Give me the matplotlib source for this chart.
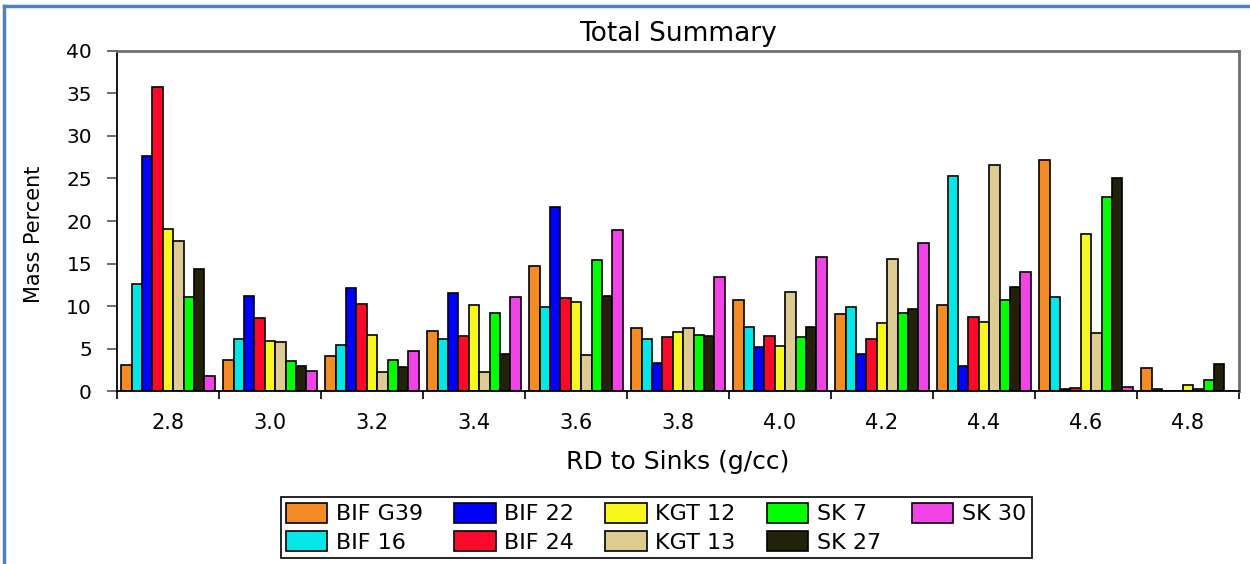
import numpy as np
import matplotlib
matplotlib.use("Agg")
import matplotlib.pyplot as plt
from matplotlib.lines import Line2D

plt.rcParams['font.family'] = ['DejaVu Sans']

densities = ['2.8', '3.0', '3.2', '3.4', '3.6', '3.8', '4.0', '4.2', '4.4', '4.6', '4.8']
samples = ['BIF G39', 'BIF 16', 'BIF 22', 'BIF 24', 'KGT 12', 'KGT 13', 'SK 7', 'SK 27', 'SK 30']
colors = ['#F58B24', '#05E6E6', '#0000FF', '#FA0A2A', '#F8F81E', '#DDCB91', '#00FF00', '#22220A', '#F044E6']

bif_g39 = [3.1, 3.7, 4.1, 7.1, 14.7, 7.4, 10.7, 9.1, 10.1, 27.2, 2.7]
bif_16 = [12.6, 6.1, 5.4, 6.1, 9.9, 6.1, 7.5, 9.9, 25.3, 11.1, 0.2]
bif_22 = [27.6, 11.2, 12.1, 11.5, 21.6, 3.3, 5.2, 4.3, 3.0, 0.2, 0.0]
bif_24 = [35.8, 8.6, 10.2, 6.5, 10.9, 6.4, 6.5, 6.1, 8.7, 0.4, 0.0]
kgt_12 = [19.1, 5.9, 6.6, 10.1, 10.5, 7.0, 5.3, 8.0, 8.1, 18.5, 0.7]
kgt_13 = [17.7, 5.8, 2.2, 2.2, 4.2, 7.4, 11.7, 15.5, 26.6, 6.8, 0.2]
sk_7 = [11.1, 3.5, 3.6, 9.2, 15.4, 6.6, 6.3, 9.2, 10.7, 22.8, 1.3]
sk_27 = [14.3, 3.0, 2.8, 4.4, 11.2, 6.5, 7.5, 9.7, 12.2, 25.1, 3.2]
sk_30 = [1.8, 2.4, 4.7, 11.1, 19.0, 13.4, 15.8, 17.4, 14.0, 0.5, 0.0]
series = [bif_g39, bif_16, bif_22, bif_24, kgt_12, kgt_13, sk_7, sk_27, sk_30]

fig = plt.figure(figsize=(12.5, 5.64), dpi=100)
ax = fig.add_axes([0.0936, 0.3067, 0.8976, 0.6029])

x = np.arange(len(densities))
n = len(series)
w = 0.92 / n
handles = []
for i, vals in enumerate(series):
    pos = x - 0.46 + w * (i + 0.5)
    b = ax.bar(pos, vals, width=w, color=colors[i], edgecolor='black',
               linewidth=1.2, label=samples[i])
    handles.append(b)

ax.set_xlim(-0.5, len(densities) - 0.5)
ax.set_ylim(0, 40)
ax.set_yticks(np.arange(0, 41, 5))
ax.set_xticks(x)
ax.set_xticklabels(densities)
# tick marks sit between the density groups
ax.set_xticks(np.arange(-0.5, len(densities), 1), minor=True)
ax.tick_params(axis='x', which='major', length=0, labelsize=15, pad=16)
ax.tick_params(axis='x', which='minor', length=6, width=1.2, direction='out')
ax.tick_params(axis='y', length=7, width=1.2, direction='out', labelsize=14.5,
               pad=11, color='#555555')

for s in ['top', 'right']:
    ax.spines[s].set_color('#707070')
    ax.spines[s].set_linewidth(2)
for s in ['left', 'bottom']:
    ax.spines[s].set_color('black')
    ax.spines[s].set_linewidth(1.3)

ax.set_title('Total Summary', fontsize=19, pad=7)
ax.set_xlabel('RD to Sinks (g/cc)', fontsize=18, labelpad=12)
ax.set_ylabel('Mass Percent', fontsize=15)
ax.yaxis.set_label_coords(-0.065, 0.46)

leg = fig.legend(handles=handles, labels=samples, ncol=5, loc='center',
                 bbox_to_anchor=(0.525, 0.0645), fontsize=16, fancybox=False,
                 edgecolor='black', framealpha=1, handlelength=1.85,
                 handleheight=1.0, handletextpad=0.4, columnspacing=1.4,
                 labelspacing=0.3, borderpad=0.25, borderaxespad=0)
leg.get_frame().set_linewidth(1.2)

# blue frame along the top and left of the chart area
fig.lines.append(Line2D([0.0035, 1.0], [0.9895, 0.9895], transform=fig.transFigure,
                        color='#4F81BD', linewidth=2.5))
fig.lines.append(Line2D([0.0035, 0.0035], [0.0, 0.9895], transform=fig.transFigure,
                        color='#4F81BD', linewidth=2.5))

fig.savefig('out.png', dpi=100)
